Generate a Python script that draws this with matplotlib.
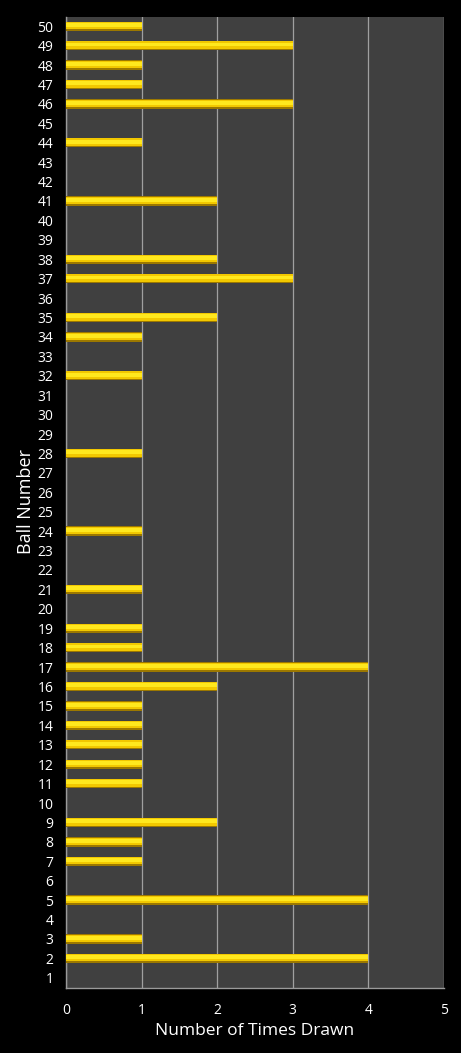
import matplotlib
matplotlib.use('Agg')
from matplotlib import pyplot as plt
import numpy as np

plt.rcParams['font.family'] = ['Open Sans', 'DejaVu Sans']

# times each ball was drawn, ball 1 .. 50
balls = list(range(1, 51))
drawn = [0, 4, 1, 0, 4, 0, 1, 1, 2, 0,
         1, 1, 1, 1, 1, 2, 4, 1, 1, 0,
         1, 0, 0, 1, 0, 0, 0, 1, 0, 0,
         0, 1, 0, 1, 2, 0, 3, 2, 0, 0,
         2, 0, 0, 1, 0, 3, 1, 1, 3, 1]
x_ticks = [0, 1, 2, 3, 4, 5]

fig = plt.figure(figsize=(4.61, 10.53), dpi=100, facecolor='black')
ax = fig.add_axes([66 / 461, 65.5 / 1053, 378 / 461, 971 / 1053])
ax.set_facecolor('#404040')

# glossy look: dark gold base, bright body, light highlight near the top
b = np.array(balls)
ax.barh(b, drawn, height=0.48, color='#9c7800', zorder=3)
ax.barh(b + 0.03, drawn, height=0.38, color='#f2c800', zorder=4)
ax.barh(b + 0.06, drawn, height=0.2, color='#ffe81e', zorder=5)

ax.set_xlim(0, 5)
ax.set_ylim(0.5, 50.5)
ax.set_xticks(x_ticks)
ax.set_yticks(balls)
ax.grid(axis='x', color='#a0a0a0', linewidth=0.9, zorder=1)
ax.set_axisbelow(True)

for s in ['top', 'right']:
    ax.spines[s].set_visible(False)
for s in ['left', 'bottom']:
    ax.spines[s].set_color('#9a9a9a')
    ax.spines[s].set_linewidth(1)

ax.tick_params(axis='both', length=0, colors='white', labelsize=10)
ax.tick_params(axis='y', pad=9)
ax.tick_params(axis='x', pad=11)

ax.set_xlabel('Number of Times Drawn', color='white', fontsize=12.5, labelpad=4)
ax.set_ylabel('Ball Number', color='white', fontsize=13, labelpad=2)

plt.savefig('out.png', dpi=100, facecolor='black')
